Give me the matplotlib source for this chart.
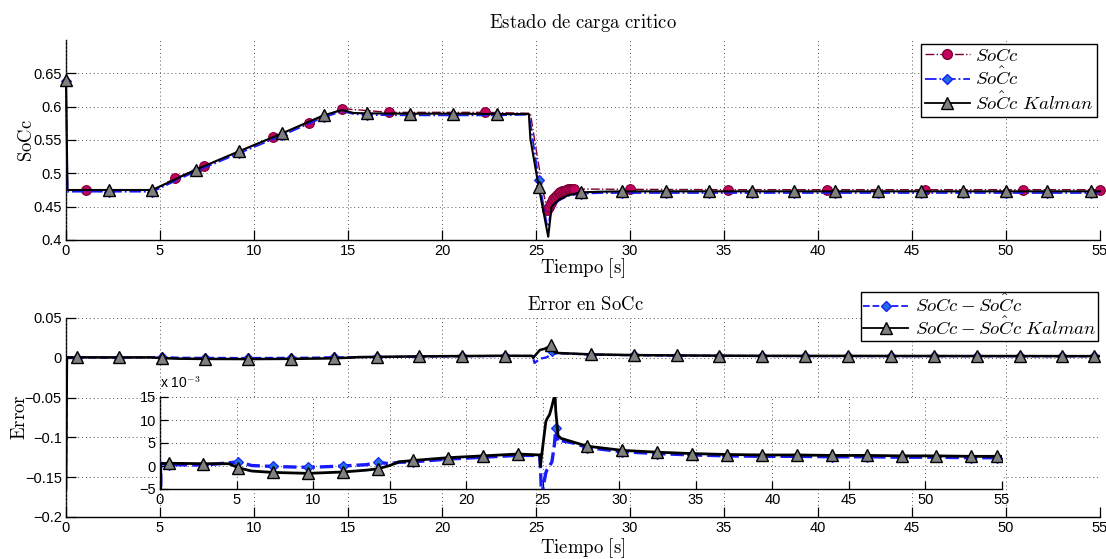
import numpy as np
import matplotlib
matplotlib.use('Agg')
import matplotlib.pyplot as plt
from matplotlib.lines import Line2D

plt.rcParams['mathtext.fontset'] = 'cm'
plt.rcParams['font.family'] = ['Liberation Sans', 'DejaVu Sans']
plt.rcParams['axes.unicode_minus'] = True

# ---------------- data: top panel (state of charge) ----------------
t_true = [0, 1.05, 4.6, 5.8, 7.35, 11.0, 12.9, 14.7, 17.2, 22.3, 24.7, 25.1, 25.4,
          25.6, 25.7, 25.8, 25.9, 26.0, 26.1, 26.2, 26.3, 26.4, 26.5, 26.6, 26.7,
          26.8, 26.9, 27.0, 30.0, 35.2, 40.5, 45.7, 50.9, 55.0]
soc_true = [0.475, 0.475, 0.475, 0.4925, 0.5105, 0.554, 0.576, 0.597, 0.5915, 0.5915,
            0.590, 0.52, 0.47, 0.445, 0.449, 0.455, 0.461, 0.465, 0.468, 0.470, 0.472,
            0.473, 0.474, 0.475, 0.476, 0.4765, 0.4765, 0.4765, 0.476, 0.4755, 0.4755,
            0.4755, 0.4755, 0.4755]
t_true_marks = [1.05, 5.8, 7.35, 11.0, 12.9, 14.7, 17.2, 22.3, 25.6, 25.7, 25.8, 25.9,
                26.0, 26.1, 26.2, 26.3, 26.4, 26.5, 26.6, 26.7, 26.8, 26.9, 27.0,
                30.0, 35.2, 40.5, 45.7, 50.9, 55.0]

t_est = [0, 0.08, 2.3, 4.6, 6.9, 9.2, 11.5, 13.7, 14.7, 15.3, 16.0, 18.3, 20.6, 22.9,
         24.62, 24.7, 25.15, 25.4, 25.6, 25.65, 25.83, 26.0, 26.2, 26.7, 27.4, 28.5,
         29.6, 31.9, 34.2, 36.5, 38.7, 40.9, 43.2, 45.5, 47.7, 50.0, 52.2, 54.5, 55.0]
soc_kalman = [0.640, 0.475, 0.475, 0.475, 0.5055, 0.533, 0.560, 0.587, 0.595, 0.5905,
              0.590, 0.5895, 0.5895, 0.589, 0.589, 0.552, 0.479, 0.442, 0.412, 0.405,
              0.450, 0.455, 0.460, 0.467, 0.4715, 0.4725, 0.473, 0.473, 0.473, 0.473,
              0.473, 0.473, 0.473, 0.473, 0.473, 0.473, 0.473, 0.473, 0.473]
soc_hat = [0.638, 0.4725, 0.4725, 0.4725, 0.503, 0.530, 0.557, 0.584, 0.593, 0.589,
           0.5875, 0.587, 0.587, 0.587, 0.588, 0.575, 0.490, 0.452, 0.420, 0.422,
           0.447, 0.453, 0.459, 0.466, 0.4695, 0.4705, 0.4705, 0.4705, 0.4705, 0.4705,
           0.4705, 0.4705, 0.4705, 0.4705, 0.4705, 0.4705, 0.4705, 0.4705, 0.4725]
t_est_marks = [0, 2.3, 4.6, 6.9, 9.2, 11.5, 13.7, 16.0, 18.3, 20.6, 22.9, 25.15, 27.4,
               29.6, 31.9, 34.2, 36.5, 38.7, 40.9, 43.2, 45.5, 47.7, 50.0, 52.2, 54.5]

# ---------------- data: bottom panel (errors) ----------------
t_err = [0, 0.05, 0.56, 2.84, 4.5, 5.12, 6.0, 7.4, 9.68, 11.96, 13.5, 14.24, 15.0, 15.6,
         16.52, 18.8, 21.08, 23.36, 24.8, 24.85, 24.92, 25.2, 25.27, 25.45, 25.6, 25.75,
         25.8, 25.85, 26.0, 26.2, 27.0, 27.92, 30.2, 32.48, 34.76, 37.04, 39.32, 41.6,
         43.88, 46.16, 48.44, 50.72, 53.0, 54.7, 55.0]
err_kalman = [-0.165, 0.0005, 0.0006, 0.0005, 0.0005, -0.0004, -0.0011, -0.0014, -0.0016,
              -0.0013, -0.0009, -0.0006, 0.0001, 0.0009, 0.0012, 0.0018, 0.0022, 0.0026,
              0.0024, -0.0002, 0.0020, 0.0096, 0.0102, 0.0112, 0.0130, 0.0150, 0.0158,
              0.0120, 0.0066, 0.0060, 0.0052, 0.0043, 0.0034, 0.0030, 0.0027, 0.0025,
              0.0024, 0.0024, 0.0023, 0.0023, 0.0022, 0.0022, 0.0021, 0.0021, 0.0021]
err_hat = [-0.165, 0.0006, 0.0003, 0.0002, 0.0007, 0.0009, 0.0001, -0.0001, -0.0003,
           0.0000, 0.0003, 0.0008, 0.0005, 0.0008, 0.0009, 0.0015, 0.0019, 0.0023,
           0.0023, -0.0002, -0.0065, -0.0015, -0.0009, 0.0000, 0.0009, 0.0043, 0.0060,
           0.0082, 0.0053, 0.0055, 0.0050, 0.0040, 0.0031, 0.0027, 0.0024, 0.0022,
           0.0021, 0.0021, 0.0020, 0.0020, 0.0019, 0.0019, 0.0018, 0.0018, 0.0019]
t_err_marks_kal = [0.56, 2.84, 5.12, 7.4, 9.68, 11.96, 14.24, 16.52, 18.8, 21.08, 23.36,
                   25.8, 27.92, 30.2, 32.48, 34.76, 37.04, 39.32, 41.6, 43.88, 46.16,
                   48.44, 50.72, 53.0, 54.7]
t_err_marks_hat = [0.56, 2.84, 5.12, 7.4, 9.68, 11.96, 14.24, 16.52, 18.8, 21.08, 23.36,
                   25.85, 27.92, 30.2, 32.48, 34.76, 37.04, 39.32, 41.6, 43.88, 46.16,
                   48.44, 50.72, 53.0, 54.7]

x_ticks = [0, 5, 10, 15, 20, 25, 30, 35, 40, 45, 50, 55]
top_yticks = [0.4, 0.45, 0.5, 0.55, 0.6, 0.65]
top_yticklabels = ['0.4', '0.45', '0.5', '0.55', '0.6', '0.65']
err_yticks = [-0.2, -0.15, -0.1, -0.05, 0, 0.05]
err_yticklabels = ['\u22120.2', '\u22120.15', '\u22120.1', '\u22120.05', '0', '0.05']
ins_yticks = [-5, 0, 5, 10, 15]
ins_yticklabels = ['\u22125', '0', '5', '10', '15']


def marks(t, sel, vals=None, lim=None):
    t = np.asarray(t)
    idx = [int(np.argmin(np.abs(t - s))) for s in sel]
    if vals is not None and lim is not None:
        v = np.asarray(vals)
        idx = [i for i in idx if lim[0] <= v[i] <= lim[1]]
    return idx


# ---------------- styles ----------------
C_TRUE_LINE = '#7a0033'
C_TRUE_FACE = '#c4005e'
C_BLUE = '#1a1aff'
C_BLUE_FACE = '#1f6fe0'
C_TRI_FACE = '#808080'
TICK_FS = 10.5

W, H = 1106, 559
fig = plt.figure(figsize=(W / 100, H / 100), dpi=100)


def fax(x0, y0, x1, y1):
    return fig.add_axes([x0 / W, 1 - y1 / H, (x1 - x0) / W, (y1 - y0) / H])


def style(ax, fs=TICK_FS):
    for s in ['top', 'right']:
        ax.spines[s].set_visible(False)
    for s in ['left', 'bottom']:
        ax.spines[s].set_linewidth(1.0)
    ax.tick_params(direction='in', length=7, width=0.9, labelsize=fs, pad=3,
                   top=False, right=False)
    ax.grid(True, linestyle=(0, (1, 3)), color='#555555', linewidth=0.7)
    ax.set_axisbelow(False)


serif = dict(fontsize=13.5)

# ---------------- top panel ----------------
ax1 = fax(66, 40, 1100, 240)
style(ax1)
ax1.plot(t_true, soc_true, color=C_TRUE_LINE, ls='-.', lw=1.0, marker='o', ms=7,
         mfc=C_TRUE_FACE, mec=C_TRUE_LINE, mew=0.8, markevery=marks(t_true, t_true_marks),
         zorder=3, clip_on=False)
ax1.plot(t_est, soc_hat, color=C_BLUE, ls='-.', lw=1.3, marker='D', ms=5.2,
         mfc=C_BLUE_FACE, mec=C_BLUE, mew=0.8, markevery=marks(t_est, t_est_marks),
         zorder=4, clip_on=False)
ax1.plot(t_est, soc_kalman, color='black', ls='-', lw=1.5, marker='^', ms=8,
         mfc=C_TRI_FACE, mec='black', mew=1.0, markevery=marks(t_est, t_est_marks),
         zorder=5, clip_on=False)
ax1.set_xlim(0, 55)
ax1.set_ylim(0.4, 0.7)
ax1.set_xticks(x_ticks)
ax1.set_yticks(top_yticks)
ax1.set_yticklabels(top_yticklabels)
ax1.set_ylabel(r'$\mathrm{SoCc}$', **serif)
ax1.yaxis.set_label_coords((36 - 66) / 1034, 0.5)

fig.text(583 / W, 1 - 23 / H, r'$\mathrm{Estado\ de\ carga\ critico}$', ha='center',
         va='center', **serif)
fig.text(583 / W, 1 - 268 / H, r'$\mathrm{Tiempo\ [s]}$', ha='center', va='center', **serif)

h_true = Line2D([], [], color=C_TRUE_LINE, ls='-.', lw=1.0, marker='o', ms=7,
                mfc=C_TRUE_FACE, mec=C_TRUE_LINE)
h_hat = Line2D([], [], color=C_BLUE, ls='-.', lw=1.3, marker='D', ms=5.2,
               mfc=C_BLUE_FACE, mec=C_BLUE)
h_kal = Line2D([], [], color='black', ls='-', lw=1.3, marker='^', ms=8,
               mfc=C_TRI_FACE, mec='black')
leg1 = fig.legend([h_true, h_hat, h_kal],
                  [r'$SoCc$', r'$\hat{SoCc}$', r'$\hat{SoCc}\ Kalman$'],
                  loc='upper right', bbox_to_anchor=(1097 / W, 1 - 44 / H),
                  fontsize=13.5, frameon=True, fancybox=False, edgecolor='black',
                  framealpha=1, borderpad=0.2, labelspacing=0.1, handlelength=2.4,
                  handletextpad=0.3, borderaxespad=0)
leg1.get_frame().set_linewidth(1.0)

# ---------------- bottom panel ----------------
ax2 = fax(66, 318, 1100, 517)
style(ax2)
ax2.plot(t_err, err_hat, color=C_BLUE, ls='--', lw=1.6, marker='D', ms=5.2,
         mfc=C_BLUE_FACE, mec=C_BLUE, mew=0.8, markevery=marks(t_err, t_err_marks_hat),
         zorder=4)
ax2.plot(t_err, err_kalman, color='black', ls='-', lw=1.8, marker='^', ms=8,
         mfc=C_TRI_FACE, mec='black', mew=1.0, markevery=marks(t_err, t_err_marks_kal),
         zorder=5)
ax2.set_xlim(0, 55)
ax2.set_ylim(-0.2, 0.05)
ax2.set_xticks(x_ticks)
ax2.set_yticks(err_yticks)
ax2.set_yticklabels(err_yticklabels)
ax2.set_ylabel(r'$\mathrm{Error}$', **serif)
ax2.yaxis.set_label_coords((29 - 66) / 1034, 0.5)

fig.text(585 / W, 1 - 305 / H, r'$\mathrm{Error\ en\ SoCc}$', ha='center', va='center',
         **serif)
fig.text(583 / W, 1 - 548 / H, r'$\mathrm{Tiempo\ [s]}$', ha='center', va='center', **serif)

h_ehat = Line2D([], [], color=C_BLUE, ls='--', lw=1.3, marker='D', ms=5.2,
                mfc=C_BLUE_FACE, mec=C_BLUE)
leg2 = fig.legend([h_ehat, h_kal],
                  [r'$SoCc-\hat{SoCc}$', r'$SoCc-\hat{SoCc}\ Kalman$'],
                  loc='upper right', bbox_to_anchor=(1098 / W, 1 - 292 / H),
                  fontsize=13.5, frameon=True, fancybox=False, edgecolor='black',
                  framealpha=1, borderpad=0.1, labelspacing=0.0, handlelength=2.4,
                  handletextpad=0.35, borderaxespad=0)
leg2.get_frame().set_linewidth(1.0)

# ---------------- inset ----------------
ax3 = fax(160, 397, 1002, 489)
style(ax3)
ax3.patch.set_facecolor('white')
scale = 1e3
hat_ins = np.asarray(err_hat) * scale
kal_ins = np.asarray(err_kalman) * scale
ax3.plot(t_err, hat_ins, color=C_BLUE, ls='--', lw=2.4,
         dashes=(4, 1.5), marker='D', ms=5.2, mfc=C_BLUE_FACE, mec=C_BLUE, mew=0.8,
         markevery=marks(t_err, t_err_marks_hat, hat_ins, (-5, 15)), zorder=4)
ax3.plot(t_err, kal_ins, color='black', ls='-', lw=2.0, solid_joinstyle='miter',
         marker='^', ms=8, mfc=C_TRI_FACE, mec='black', mew=1.0,
         markevery=marks(t_err, t_err_marks_kal, kal_ins, (-5, 15)), zorder=5)
ax3.set_xlim(0, 55)
ax3.set_ylim(-5, 15)
ax3.set_xticks(x_ticks)
ax3.set_yticks(ins_yticks)
ax3.set_yticklabels(ins_yticklabels)
ax3.tick_params(length=6)
fig.text(160 / W, 1 - 391 / H, r'x 10$^{-3}$', ha='left', va='bottom', fontsize=10)

fig.savefig('out.png', dpi=100)
